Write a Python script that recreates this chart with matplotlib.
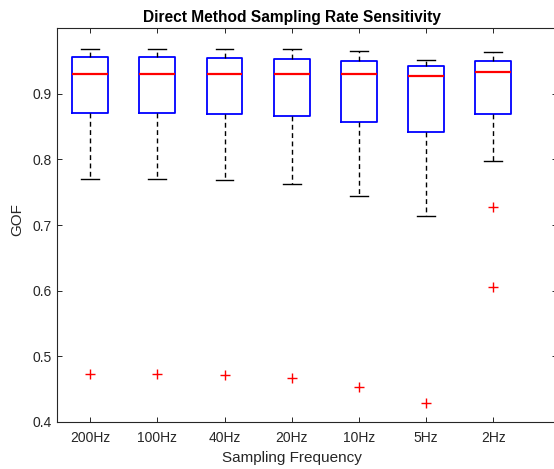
import matplotlib
matplotlib.use("Agg")
import matplotlib.pyplot as plt

# ---- data ----
categories = ["200Hz", "100Hz", "40Hz", "20Hz", "10Hz", "5Hz", "2Hz"]
whis_hi = [0.969, 0.969, 0.969, 0.969, 0.965, 0.952, 0.964]
q3      = [0.956, 0.956, 0.955, 0.954, 0.951, 0.942, 0.950]
medians = [0.930, 0.930, 0.930, 0.931, 0.930, 0.928, 0.933]
q1      = [0.871, 0.871, 0.870, 0.867, 0.858, 0.842, 0.869]
whis_lo = [0.770, 0.770, 0.769, 0.763, 0.745, 0.714, 0.797]
outliers = [[0.472], [0.472], [0.471], [0.466], [0.452], [0.428], [0.728, 0.605]]
yticks = [0.4, 0.5, 0.6, 0.7, 0.8, 0.9]

plt.rcParams['font.family'] = ['Liberation Sans', 'DejaVu Sans']

W, H = 554, 469
fig = plt.figure(figsize=(W / 100, H / 100), dpi=100)
left_px, right_px, top_px, bot_px = 56.5, 557.0, 28.5, 421.5
ax = fig.add_axes([left_px / W, 1 - bot_px / H, (right_px - left_px) / W, (bot_px - top_px) / H])

stats = []
for i in range(len(categories)):
    stats.append(dict(med=medians[i], q1=q1[i], q3=q3[i],
                      whislo=whis_lo[i], whishi=whis_hi[i], fliers=outliers[i]))

positions = list(range(1, len(categories) + 1))
ax.bxp(stats, positions=positions, widths=0.53, capwidths=0.265,
       showfliers=True, manage_ticks=False,
       boxprops=dict(color='#0000FF', linewidth=1.3),
       medianprops=dict(color='#FF0000', linewidth=1.6),
       whiskerprops=dict(color='black', linewidth=1.0, linestyle=(0, (3.5, 2.5))),
       capprops=dict(color='black', linewidth=1.0),
       flierprops=dict(marker='+', markeredgecolor='#FF0000', markersize=7,
                       markeredgewidth=1.0, linestyle='none'))

px_per_unit = 67.2
ax.set_xlim(0.5, 0.5 + (right_px - left_px) / px_per_unit)
ax.set_ylim(0.4, 1.0)
ax.set_xticks(positions)
ax.set_xticklabels(categories)
ax.set_yticks(yticks)
ax.set_yticklabels([f"{v:.1f}" for v in yticks])

axcol = '#262626'
for s in ax.spines.values():
    s.set_color(axcol)
    s.set_linewidth(0.8)
ax.tick_params(axis='both', direction='in', length=3.3, width=0.7, color=axcol,
               labelcolor=axcol, labelsize=10, top=True, right=True)
ax.tick_params(axis='x', pad=7)
ax.tick_params(axis='y', pad=3.5)

cx = (292 - left_px) / (right_px - left_px)
ax.set_title("Direct Method Sampling Rate Sensitivity", fontsize=11.2,
             fontweight='bold', color='black', x=cx, pad=5)
ax.set_xlabel("Sampling Frequency", fontsize=11, color=axcol)
ax.xaxis.set_label_coords(cx, -0.075)
ax.set_ylabel("GOF", fontsize=11, color=axcol)
ax.yaxis.set_label_coords((24 - left_px) / (right_px - left_px), (bot_px - 220) / (bot_px - top_px))

fig.savefig("out.png", dpi=100)
